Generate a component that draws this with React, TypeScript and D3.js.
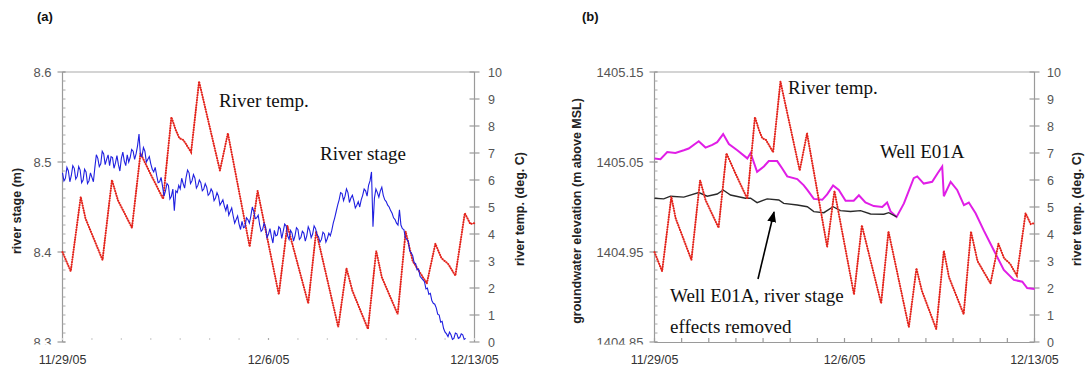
import React from "react";
import * as d3 from "d3";

// ---------- data ----------
const START = new Date(2005, 10, 29);
const toDate = (d: number) => new Date(START.getTime() + d * 86400000);
const END_DAY = 14;

const dateTickLabels = ["11/29/05", "12/6/05", "12/13/05"];
const dateTickDays = [0, 7, 14];

const stageTicks = [8.3, 8.4, 8.5, 8.6];
const elevTicks = [1404.85, 1404.95, 1405.05, 1405.15];
const tempTicks = [0, 1, 2, 3, 4, 5, 6, 7, 8, 9, 10];

// river temperature (deg C), shared by both panels
const tempDays = [0, 0.28, 0.62, 0.78, 1.36, 1.68, 1.88, 2.36, 2.65, 2.98, 3.42, 3.7, 3.85, 3.97, 4.11, 4.37, 4.64, 4.84, 5.35, 5.62, 6.36, 6.63, 7.35, 7.64, 8.35, 8.62, 9.37, 9.65, 9.85, 10.38, 10.66, 10.85, 11.39, 11.66, 11.9, 12.38, 12.67, 12.88, 13.1, 13.35, 13.67, 13.86, 14];
const tempVals = [3.33, 2.62, 5.38, 4.58, 3.04, 6.0, 5.26, 4.23, 6.99, 6.25, 5.3, 8.33, 7.85, 7.55, 7.48, 7.03, 9.65, 8.72, 6.35, 7.73, 3.53, 5.6, 1.76, 4.32, 1.43, 4.1, 0.55, 2.73, 1.9, 0.48, 3.38, 2.4, 1.03, 4.09, 3.0, 2.17, 3.64, 3.1, 2.9, 2.46, 4.77, 4.37, 4.4];

// river stage (m), one reading every 0.05 day from 11/29
const stageStep = 0.05;
const stageVals = [
  8.488, 8.479, 8.482, 8.494, 8.49, 8.478, 8.485, 8.496, 8.493, 8.481,
  8.484, 8.495, 8.491, 8.477, 8.48, 8.492, 8.489, 8.476, 8.479, 8.488,
  8.483, 8.478, 8.494, 8.508, 8.504, 8.495, 8.498, 8.512, 8.509, 8.497,
  8.503, 8.508, 8.496, 8.506, 8.505, 8.493, 8.499, 8.507, 8.497, 8.49,
  8.504, 8.511, 8.501, 8.496, 8.508, 8.5, 8.505, 8.514, 8.512, 8.503,
  8.509, 8.518, 8.531, 8.507, 8.506, 8.516, 8.512, 8.5, 8.503, 8.506,
  8.498, 8.492, 8.489, 8.494, 8.485, 8.477, 8.478, 8.483, 8.473, 8.462,
  8.468, 8.476, 8.474, 8.459, 8.462, 8.47, 8.446, 8.468, 8.466, 8.474,
  8.47, 8.482, 8.476, 8.471, 8.483, 8.491, 8.488, 8.476, 8.479, 8.486,
  8.482, 8.471, 8.474, 8.48, 8.477, 8.468, 8.47, 8.476, 8.472, 8.463,
  8.465, 8.47, 8.467, 8.457, 8.46, 8.466, 8.462, 8.452, 8.455, 8.458,
  8.451, 8.446, 8.453, 8.441, 8.445, 8.449, 8.44, 8.432, 8.436, 8.44,
  8.431, 8.425, 8.434, 8.427, 8.428, 8.438, 8.436, 8.432, 8.44, 8.45,
  8.445, 8.437, 8.438, 8.441, 8.43, 8.423, 8.425, 8.432, 8.428, 8.416,
  8.42, 8.426, 8.417, 8.41, 8.424, 8.418, 8.419, 8.428, 8.426, 8.415,
  8.423, 8.431, 8.429, 8.418, 8.414, 8.424, 8.421, 8.412, 8.418, 8.427,
  8.425, 8.414, 8.416, 8.423, 8.421, 8.412, 8.418, 8.428, 8.424, 8.416,
  8.42, 8.429, 8.426, 8.419, 8.417, 8.411, 8.414, 8.422, 8.42, 8.411,
  8.415, 8.421, 8.418, 8.424, 8.432, 8.438, 8.445, 8.452, 8.458, 8.466,
  8.465, 8.457, 8.462, 8.47, 8.466, 8.455, 8.46, 8.463, 8.457, 8.449,
  8.452, 8.456, 8.45, 8.458, 8.463, 8.47, 8.468, 8.462, 8.474, 8.479,
  8.489, 8.428, 8.46, 8.47, 8.466, 8.461, 8.468, 8.472, 8.463, 8.458,
  8.456, 8.452, 8.45, 8.446, 8.443, 8.438, 8.436, 8.432, 8.43, 8.447,
  8.43, 8.426, 8.425, 8.416, 8.414, 8.412, 8.401, 8.399, 8.396, 8.388,
  8.387, 8.38, 8.381, 8.373, 8.371, 8.369, 8.367, 8.359, 8.36, 8.353,
  8.354, 8.346, 8.343, 8.342, 8.338, 8.331, 8.33, 8.322, 8.323, 8.315,
  8.311, 8.309, 8.306, 8.311, 8.308, 8.303, 8.304, 8.31, 8.309, 8.304,
  8.305, 8.309, 8.308, 8.303, 8.304,
];

// Well E01A groundwater elevation (m above MSL)
const wellDays = [0, 0.22, 0.47, 0.77, 1.08, 1.26, 1.63, 1.88, 2.13, 2.31, 2.53, 2.74, 3.05, 3.42, 3.54, 3.78, 4.03, 4.21, 4.52, 4.7, 4.89, 5.26, 5.5, 5.63, 5.87, 6.18, 6.36, 6.58, 6.79, 7.04, 7.34, 7.53, 7.77, 8.08, 8.39, 8.57, 8.7, 8.92, 9.19, 9.55, 9.68, 9.92, 10.23, 10.42, 10.6, 10.66, 10.91, 11.15, 11.4, 11.58, 11.83, 12.13, 12.5, 12.87, 13.24, 13.55, 13.73, 14];
const wellVals = [1405.054, 1405.053, 1405.061, 1405.06, 1405.063, 1405.065, 1405.073, 1405.066, 1405.069, 1405.072, 1405.081, 1405.07, 1405.063, 1405.054, 1405.06, 1405.039, 1405.045, 1405.051, 1405.051, 1405.043, 1405.034, 1405.031, 1405.024, 1405.019, 1405.009, 1405.008, 1405.014, 1405.024, 1405.019, 1405.007, 1405.007, 1405.013, 1405.005, 1405.001, 1405.0, 1405.005, 1404.995, 1404.989, 1405.004, 1405.032, 1405.034, 1405.026, 1405.028, 1405.037, 1405.045, 1405.012, 1405.028, 1405.019, 1405.002, 1405.005, 1404.993, 1404.974, 1404.952, 1404.93, 1404.919, 1404.917, 1404.91, 1404.909];

// Well E01A, river stage effects removed
const detDays = [0, 0.34, 0.59, 1.08, 1.63, 1.94, 2.31, 2.53, 2.8, 3.35, 3.54, 3.78, 4.15, 4.58, 4.76, 5.26, 5.63, 5.87, 6.24, 6.58, 6.85, 7.22, 7.59, 7.96, 8.45, 8.63, 8.92];
const detVals = [1405.0097, 1405.009, 1405.012, 1405.011, 1405.016, 1405.012, 1405.0144, 1405.0189, 1405.0133, 1405.0097, 1405.0097, 1405.0048, 1405.009, 1405.0078, 1405.004, 1405.0022, 1405.0003, 1404.9948, 1404.9937, 1405.0003, 1404.996, 1404.995, 1404.996, 1404.9922, 1404.992, 1404.9937, 1404.989];

// ---------- layout ----------
const TOP = 72;
const BOTTOM = 342;
const SANS = "'Liberation Sans', Arial, sans-serif";
const SERIF = "'Liberation Serif', 'Times New Roman', serif";
const RED = "#e3231b";

type Pt = [Date, number];

function RedTemp({ x, y }: { x: d3.ScaleTime<number, number>; y: d3.ScaleLinear<number, number> }) {
  const pts: Pt[] = tempDays.map((d, i) => [toDate(d), tempVals[i]]);
  const line = d3.line<Pt>().x((p) => x(p[0])).y((p) => y(p[1]));
  const dstr = line(pts) || "";
  return (
    <g>
      <path d={dstr} fill="none" stroke="#f6b4b0" strokeWidth={1} />
      <path d={dstr} fill="none" stroke={RED} strokeWidth={2} strokeDasharray="0.3 2.2" strokeLinecap="round" />
    </g>
  );
}

function Frame({
  x, yL, yR, leftTicks, leftFmt, leftTitle, rightTitle, titleX, leftTitleX, rightTitleX, rightLabelX, bottomLine,
}: any) {
  const x0 = x.range()[0];
  const x1 = x.range()[1];
  const [lo, hi] = yL.domain();
  const minor: number[] = d3.range(0, 31).map((i) => lo + ((hi - lo) * i) / 30);
  const days = d3.range(0, END_DAY + 1);
  const clipId = "clip" + Math.round(x0);
  return (
    <g>
      <defs>
        <clipPath id={clipId}>
          <rect x={0} y={0} width={1088} height={344.5} />
        </clipPath>
      </defs>
      {/* top line */}
      <line x1={x0} x2={x1} y1={TOP} y2={TOP} stroke="#d4d4d4" strokeWidth={2} />
      {/* left axis */}
      <line x1={x0} x2={x0} y1={TOP} y2={BOTTOM} stroke="#9a9a9a" strokeWidth={1.2} />
      {minor.map((v, i) => (
        <line key={"m" + i} x1={x0} x2={x0 + 3} y1={yL(v)} y2={yL(v)} stroke="#a8a8a8" strokeWidth={1} />
      ))}
      {leftTicks.map((v: number, i: number) => (
        <g key={"lt" + i}>
          <line x1={x0 - 5} x2={x0 + 3} y1={yL(v)} y2={yL(v)} stroke="#9a9a9a" strokeWidth={1.2} />
          <text
            x={x0 - 11}
            y={yL(v)}
            dy="0.36em"
            textAnchor="end"
            fontFamily={SANS}
            fontSize={13}
            fill="#555"
            clipPath={`url(#${clipId})`}
          >
            {leftFmt(v)}
          </text>
        </g>
      ))}
      {/* right axis */}
      <line x1={x1} x2={x1} y1={TOP} y2={BOTTOM} stroke="#9a9a9a" strokeWidth={1.2} />
      {tempTicks.map((v) => (
        <g key={"rt" + v}>
          <line x1={x1 - 5} x2={x1 + 5} y1={yR(v)} y2={yR(v)} stroke="#9a9a9a" strokeWidth={1.2} />
          <text x={rightLabelX} y={yR(v)} dy="0.36em" fontFamily={SANS} fontSize={12.5} fill="#555">
            {v}
          </text>
        </g>
      ))}
      {/* bottom axis */}
      {bottomLine && <line x1={x0} x2={x1} y1={BOTTOM + 0.5} y2={BOTTOM + 0.5} stroke="#9a9a9a" strokeWidth={1.2} />}
      {days.map((d) => (
        <line
          key={"bt" + d}
          x1={x(toDate(d))}
          x2={x(toDate(d))}
          y1={BOTTOM - 4}
          y2={bottomLine ? BOTTOM : BOTTOM - 2}
          stroke={bottomLine ? "#9a9a9a" : d === 7 ? "#aaa" : "#d0d0d0"}
          strokeWidth={1.2}
        />
      ))}
      {dateTickDays.map((d, i) => (
        <text key={"xl" + i} x={x(toDate(d))} y={364} textAnchor="middle" fontFamily={SANS} fontSize={12.5} fill="#333">
          {dateTickLabels[i]}
        </text>
      ))}
      {/* axis titles */}
      <text
        transform={`translate(${leftTitleX},${(TOP + BOTTOM) / 2 + 4}) rotate(-90)`}
        textAnchor="middle"
        dy="0.35em"
        fontFamily={SANS}
        fontWeight="bold"
        fontSize={12.5}
        fill="#222"
      >
        {leftTitle}
      </text>
      <text
        transform={`translate(${rightTitleX},${(TOP + BOTTOM) / 2 + 2}) rotate(-90)`}
        textAnchor="middle"
        dy="0.35em"
        fontFamily={SANS}
        fontWeight="bold"
        fontSize={12.5}
        fill="#222"
      >
        {rightTitle}
      </text>
      <text x={titleX} y={21} fontFamily={SANS} fontWeight="bold" fontSize={13} fill="#111">
        {titleX < 500 ? "(a)" : "(b)"}
      </text>
    </g>
  );
}

export default function App() {
  // panel (a)
  const xa = d3.scaleTime().domain([toDate(0), toDate(END_DAY)]).range([62.5, 474.5]);
  const ya = d3.scaleLinear().domain([8.3, 8.6]).range([BOTTOM, TOP]);
  const yaT = d3.scaleLinear().domain([0, 10]).range([BOTTOM, TOP]);
  // panel (b)
  const xb = d3.scaleTime().domain([toDate(0), toDate(END_DAY)]).range([654.5, 1034.5]);
  const yb = d3.scaleLinear().domain([1404.85, 1405.15]).range([BOTTOM, TOP]);
  const ybT = d3.scaleLinear().domain([0, 10]).range([BOTTOM, TOP]);

  const stagePts: Pt[] = stageVals.map((v, i) => [toDate(i * stageStep), v]);
  const stageLine = d3.line<Pt>().x((p) => xa(p[0])).y((p) => ya(p[1]));
  const wellPts: Pt[] = wellDays.map((d, i) => [toDate(d), wellVals[i]]);
  const detPts: Pt[] = detDays.map((d, i) => [toDate(d), detVals[i]]);
  const lineB = d3.line<Pt>().x((p) => xb(p[0])).y((p) => yb(p[1]));

  return (
    <svg width={1088} height={371} style={{ position: "absolute", left: 0, top: 0, background: "#fff" }}>
      <defs>
        <marker id="arrow" viewBox="0 0 10 10" refX="9" refY="5" markerWidth="7" markerHeight="7" orient="auto">
          <path d="M0,1 L10,5 L0,9 Z" fill="#000" />
        </marker>
      </defs>
      <rect width={1088} height={371} fill="#fff" />

      {/* ---------- panel (a) ---------- */}
      <Frame
        x={xa}
        yL={ya}
        yR={yaT}
        leftTicks={stageTicks}
        leftFmt={(v: number) => v.toFixed(1)}
        leftTitle="river stage (m)"
        rightTitle="river temp. (deg. C)"
        titleX={37}
        leftTitleX={17}
        rightTitleX={520}
        rightLabelX={488}
        bottomLine={false}
      />
      <RedTemp x={xa} y={yaT} />
      <path d={stageLine(stagePts) || ""} fill="none" stroke="#1f1fe0" strokeWidth={1.1} />
      <text x={219} y={107} fontFamily={SERIF} fontSize={19} fill="#111">River temp.</text>
      <text x={320} y={160} fontFamily={SERIF} fontSize={19} fill="#111">River stage</text>

      {/* ---------- panel (b) ---------- */}
      <Frame
        x={xb}
        yL={yb}
        yR={ybT}
        leftTicks={elevTicks}
        leftFmt={(v: number) => v.toFixed(2)}
        leftTitle="groundwater elevation (m above MSL)"
        rightTitle="river temp. (deg. C)"
        titleX={582}
        leftTitleX={577}
        rightTitleX={1077}
        rightLabelX={1047}
        bottomLine={true}
      />
      <path d={lineB(wellPts) || ""} fill="none" stroke="#e01ee6" strokeWidth={2} />
      <path d={lineB(detPts) || ""} fill="none" stroke="#2a2a2a" strokeWidth={1.4} />
      <RedTemp x={xb} y={ybT} />
      <line x1={758} y1={279} x2={774} y2={212} stroke="#000" strokeWidth={1.6} markerEnd="url(#arrow)" />
      <text x={788} y={94} fontFamily={SERIF} fontSize={19} fill="#111">River temp.</text>
      <text x={880} y={158} fontFamily={SERIF} fontSize={19} fill="#111">Well E01A</text>
      <text x={670} y={302} fontFamily={SERIF} fontSize={19} fill="#111">Well E01A, river stage</text>
      <text x={670} y={333} fontFamily={SERIF} fontSize={19} fill="#111">effects removed</text>
    </svg>
  );
}
